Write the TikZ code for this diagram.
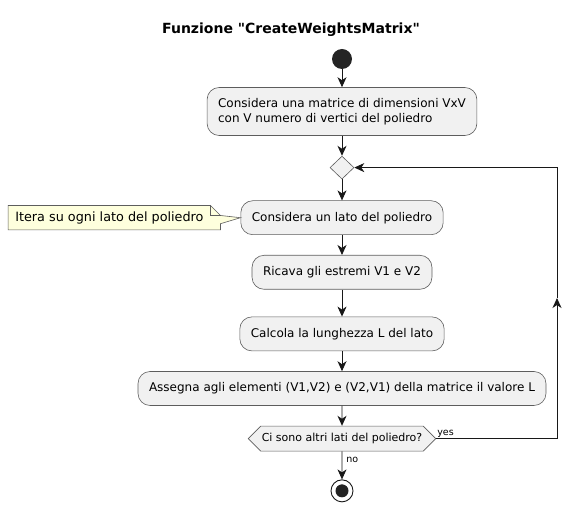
\documentclass[tikz,border=0pt]{standalone}
\usepackage{fontspec}
\setmainfont{DejaVu Sans}
\usetikzlibrary{arrows.meta, positioning, shapes, shapes.geometric, shapes.symbols}
\definecolor{actfill}{HTML}{F1F1F1}
\definecolor{actline}{HTML}{181818}
\definecolor{notefill}{HTML}{FEFFDD}

\begin{document}
\begin{tikzpicture}[x=1pt, y=1pt, >={Stealth[length=10pt, width=9pt, inset=3pt]}, node distance=20pt]
        \tikzset{actbox/.style={rectangle, rounded corners=12pt, draw=actline!70, fill=actfill, line width=0.6pt, minimum height=34pt, inner xsep=11pt, font=\fontsize{12}{15}\selectfont},
                 flow/.style={draw=actline, line width=0.9pt},
                 lbl/.style={font=\fontsize{9.5}{11}\selectfont, inner sep=1pt},
                 notetext/.style={font=\fontsize{12.8}{15}\selectfont, minimum height=24pt, inner xsep=7pt}}
        \useasboundingbox (0,0) rectangle (582,-510);

        \node[font=\bfseries\fontsize{14}{16}\selectfont] (title) at (291,-30) {Funzione \textquotedbl CreateWeightsMatrix\textquotedbl};
        \node[circle, fill=actline!95, minimum size=20pt, inner sep=0pt] (start) at (342,-59) {};
        \node[actbox, align=left, minimum height=48pt, below=18pt of start] (init) {Considera una matrice di dimensioni VxV\\con V numero di vertici del poliedro};
        \node[diamond, draw=actline!70, fill=actfill, line width=0.6pt, minimum width=24pt, minimum height=23pt, inner sep=0pt, below=of init] (loop) {};
        \node[actbox, below=21pt of loop] (lato) {Considera un lato del poliedro};
        \node[actbox, below=of lato] (estremi) {Ricava gli estremi V1 e V2};
        \node[actbox, below=27pt of estremi] (lungh) {Calcola la lunghezza L del lato};
        \node[actbox, below=of lungh] (assegna) {Assegna agli elementi (V1,V2) e (V2,V1) della matrice il valore L};
        \node[signal, signal to=west and east, signal pointer angle=90, draw=actline!70, fill=actfill, line width=0.6pt, minimum height=25pt, inner xsep=1pt, font=\fontsize{11}{14}\selectfont, below=of assegna] (check) {Ci sono altri lati del poliedro?};
        \node[circle, draw=actline, line width=0.9pt, minimum size=22pt, inner sep=0pt, below=28pt of check] (stop) {};
        \fill[actline!95] (stop) circle (6.5pt);

        % nota a sinistra
        \node[minimum width=212pt, minimum height=24pt, inner sep=0pt, left=20pt of lato] (note) {};
        \draw[draw=actline!70, fill=notefill, line width=0.6pt] (note.south west) -- (note.north west) -- ([xshift=-10pt]note.north east) -- ([yshift=-10pt]note.north east) -- (lato.west) -- ([yshift=-6pt]note.east) -- (note.south east) -- cycle;
        \draw[draw=actline!70, line width=0.6pt] ([xshift=-10pt]note.north east) -- ([xshift=-10pt, yshift=-10pt]note.north east) -- ([yshift=-10pt]note.north east);
        \node[notetext, anchor=west] at (note.west) {Itera su ogni lato del poliedro};

        \draw[flow, ->] (start) -- (init);
        \draw[flow, ->] (init) -- (loop);
        \draw[flow, ->] (loop) -- (lato);
        \draw[flow, ->] (lato) -- (estremi);
        \draw[flow, ->] (estremi) -- (lungh);
        \draw[flow, ->] (lungh) -- (assegna);
        \draw[flow, ->] (assegna) -- (check);
        \draw[flow, ->] (check) -- node[lbl, right=3pt, pos=0.3] {no} (stop);

        % ritorno al ciclo
        \coordinate (ret) at (557,-298);
        \draw[flow, ->] (check.east) -| (ret);
        \draw[flow, ->] (ret) |- (loop.east);
        \node[lbl, anchor=south west] at (check.east) {yes};
    \end{tikzpicture}
\end{document}
